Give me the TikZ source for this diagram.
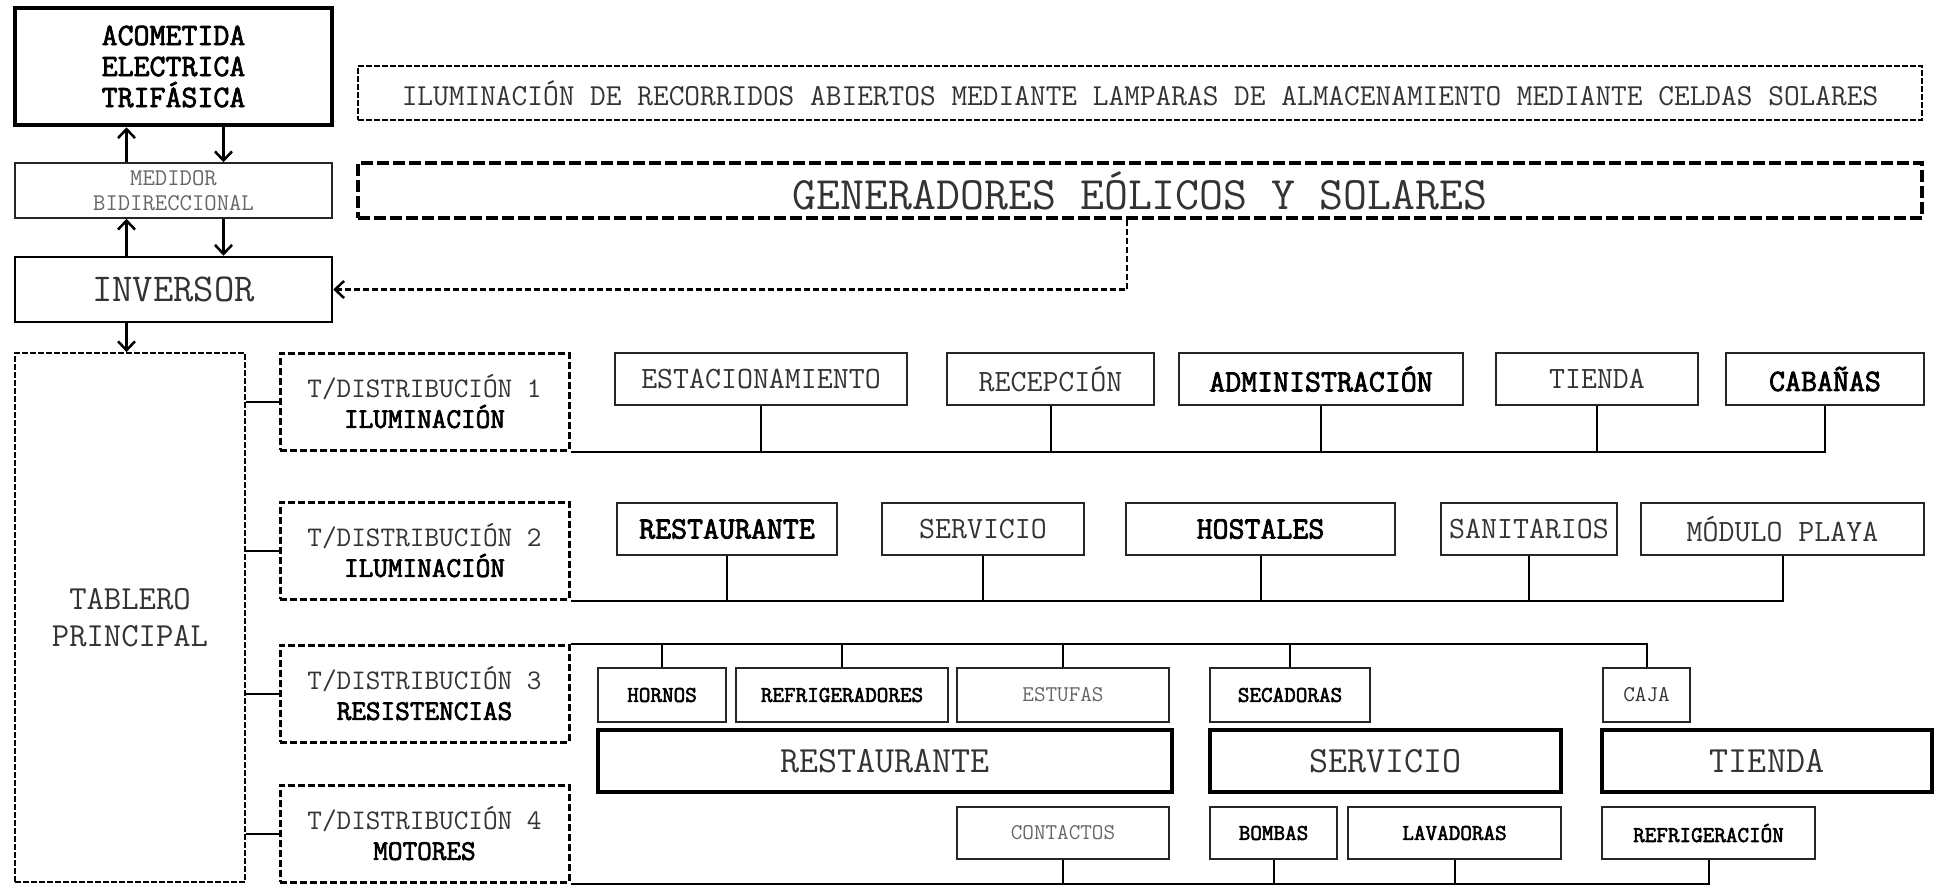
\documentclass[tikz,border=0pt]{standalone}
\usepackage{fontspec}
\setmainfont{Latin Modern Mono}[AutoFakeBold=2.5]
\usetikzlibrary{arrows.meta}
\newcommand\fs[2]{\fontsize{#1}{#2}\selectfont}
\newcommand\bx[7][]{\node[#1,minimum width={(#5-#3)*1pt},minimum height={(#6-#4)*1pt}] (#2) at ({(#3+#5)/2},{(#4+#6)/2}) {#7};}
\tikzset{
  box/.style={draw, inner sep=0pt, align=center, line width=1.5pt},
  thinbox/.style={box, draw=black!85},
  thickbox/.style={box, line width=4.5pt},
  lt/.style={text=black!80},
  vlt/.style={text=black!60},
  dthin/.style={box, dash pattern=on 6pt off 2pt, line width=1.8pt},
  dthick/.style={box, dash pattern=on 12pt off 4pt, line width=4pt},
  dmed/.style={box, dash pattern=on 7pt off 3pt, line width=3pt},
  link/.style={line width=2pt},
  arr/.style={line width=2.5pt, -{Straight Barb[length=9pt,width=17pt]}},
  dconn/.style={line width=2.5pt, dash pattern=on 6pt off 3pt, -{Straight Barb[length=9pt,width=17pt]}},
  rowlab/.style={font=\fs{31}{34}},
  rowbold/.style={font=\fs{31}{34}\bfseries},
  smlab/.style={font=\fs{22.5}{26}},
  smbold/.style={font=\fs{22.5}{26}\bfseries},
  biglab/.style={font=\fs{37}{40}}
}
\begin{document}
\begin{tikzpicture}[x=1pt,y=-1pt]
\useasboundingbox (0,0) rectangle (1936,887);
% top chain
\bx[thickbox,font=\fs{31}{31}\bfseries]{acom}{15}{8}{332}{125}{ACOMETIDA\\ELECTRICA\\TRIFÁSICA}
\bx[thinbox,vlt,font=\fs{24}{25}]{med}{15}{163}{332}{218}{MEDIDOR\\BIDIRECCIONAL}
\bx[box,line width=2.5pt,lt,font=\fs{39.5}{42}]{inv}{15}{257}{332}{322}{INVERSOR}
\bx[dthin,lt,font=\fs{30.5}{32}]{ilum}{358}{66}{1922}{120}{ILUMINACIÓN DE RECORRIDOS ABIERTOS MEDIANTE LAMPARAS DE ALMACENAMIENTO MEDIANTE CELDAS SOLARES}
\bx[dthick,lt,font=\fs{46.5}{48}]{gen}{358}{163}{1922}{218}{GENERADORES EÓLICOS Y SOLARES}
\bx[dthin,lt,font=\fs{33.7}{37}]{tab}{15}{353}{245}{882}{TABLERO\\PRINCIPAL}
% distribution boards
\bx[dmed,font=\fs{28.4}{30}]{t1}{280}{353}{569}{450}{\textcolor{black!80}{T/DISTRIBUCIÓN 1}\\\textbf{ILUMINACIÓN}}
\bx[dmed,font=\fs{28.4}{30}]{t2}{280}{502}{569}{599}{\textcolor{black!80}{T/DISTRIBUCIÓN 2}\\\textbf{ILUMINACIÓN}}
\bx[dmed,font=\fs{28.4}{30}]{t3}{280}{645}{569}{742}{\textcolor{black!80}{T/DISTRIBUCIÓN 3}\\\textbf{RESISTENCIAS}}
\bx[dmed,font=\fs{28.4}{30}]{t4}{280}{785}{569}{882}{\textcolor{black!80}{T/DISTRIBUCIÓN 4}\\\textbf{MOTORES}}
% row 1
\bx[thinbox,rowlab,lt]{est}{615}{353}{907}{405}{ESTACIONAMIENTO}
\bx[thinbox,rowlab,lt]{rec}{947}{353}{1154}{405}{RECEPCIÓN}
\bx[thinbox,rowbold]{adm}{1179}{353}{1463}{405}{ADMINISTRACIÓN}
\bx[thinbox,rowlab,lt]{tie}{1496}{353}{1698}{405}{TIENDA}
\bx[thinbox,rowbold]{cab}{1726}{353}{1924}{405}{CABAÑAS}
% row 2
\bx[thinbox,rowbold]{res}{617}{503}{837}{555}{RESTAURANTE}
\bx[thinbox,rowlab,lt]{ser}{882}{503}{1084}{555}{SERVICIO}
\bx[thinbox,rowbold]{hos}{1126}{503}{1395}{555}{HOSTALES}
\bx[thinbox,rowlab,lt]{san}{1441}{503}{1617}{555}{SANITARIOS}
\bx[thinbox,rowlab,lt]{mod}{1641}{503}{1924}{555}{MÓDULO PLAYA}
% row 3
\bx[thinbox,smbold]{hor}{598}{668}{726}{722}{HORNOS}
\bx[thinbox,smbold]{ref}{736}{668}{948}{722}{REFRIGERADORES}
\bx[thinbox,smlab,vlt]{estu}{957}{668}{1169}{722}{ESTUFAS}
\bx[thinbox,smbold]{sec}{1210}{668}{1370}{722}{SECADORAS}
\bx[thinbox,smlab,lt]{caja}{1603}{668}{1690}{722}{CAJA}
% big areas
\bx[thickbox,biglab,lt]{bres}{598}{730}{1172}{792}{RESTAURANTE}
\bx[thickbox,biglab,lt]{bser}{1210}{730}{1561}{792}{SERVICIO}
\bx[thickbox,biglab,lt]{btie}{1602}{730}{1932}{792}{TIENDA}
% row 4
\bx[thinbox,smlab,vlt]{con}{957}{807}{1169}{859}{CONTACTOS}
\bx[thinbox,smbold]{bom}{1210}{807}{1337}{859}{BOMBAS}
\bx[thinbox,smbold]{lav}{1348}{807}{1561}{859}{LAVADORAS}
\bx[thinbox,smbold]{refr}{1602}{807}{1815}{859}{REFRIGERACIÓN}
% arrows in top chain
\draw[arr] ([xshift=-47pt]med.north) -- ([xshift=-47pt]acom.south);
\draw[arr] ([xshift=50pt]acom.south) -- ([xshift=50pt]med.north);
\draw[arr] ([xshift=-47pt]inv.north) -- ([xshift=-47pt]med.south);
\draw[arr] ([xshift=50pt]med.south) -- ([xshift=50pt]inv.north);
\draw[arr] ([xshift=-47pt]inv.south) -- ([xshift=-47pt]inv.south |- tab.north);
\draw[dconn] ([xshift=-13pt]gen.south) |- (inv.east);
% tablero to boards
\foreach \t in {t1,t2,t3,t4}{\draw[link] (\t.west -| tab.east) -- (\t.west);}
% row 1 bus
\draw[link] (t1.south east) -| (cab.south);
\foreach \n in {est,rec,adm,tie}{\draw[link] (\n.south) -- (\n.south |- t1.south east);}
% row 2 bus
\draw[link] (t2.south east) -| (mod.south);
\foreach \n in {res,ser,hos,san}{\draw[link] (\n.south) -- (\n.south |- t2.south east);}
% row 3 bus
\draw[link] (t3.north east) -| (caja.north);
\foreach \n in {hor,ref,estu,sec}{\draw[link] (\n.north) -- (\n.north |- t3.north east);}
% row 4 bus
\draw[link] (t4.south east) -| (refr.south);
\foreach \n in {con,bom,lav}{\draw[link] (\n.south) -- (\n.south |- t4.south east);}
\end{tikzpicture}
\end{document}
